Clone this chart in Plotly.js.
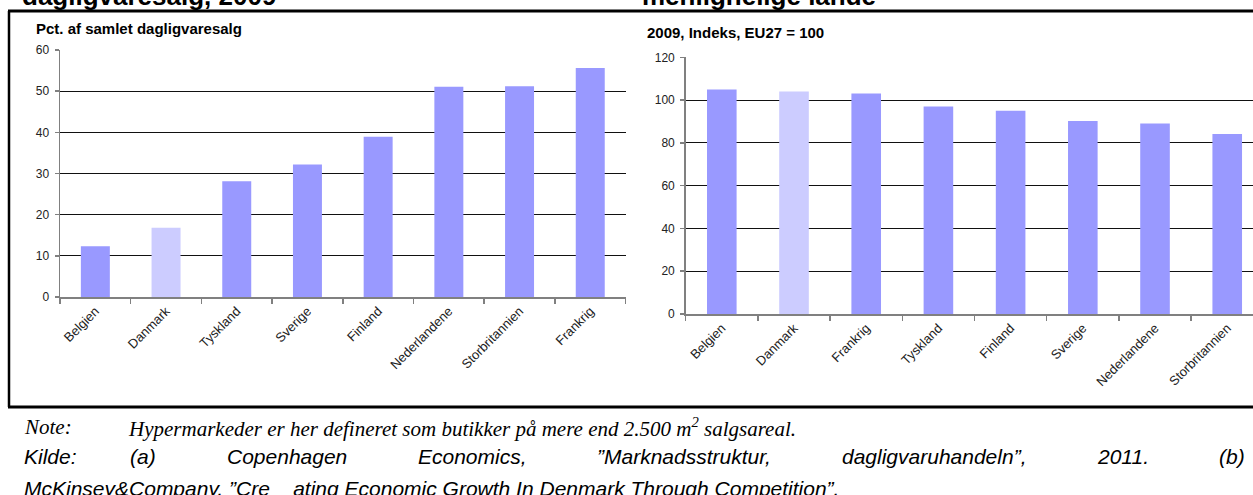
<!DOCTYPE html>
<html>
<head>
<meta charset="utf-8">
<script src="https://cdn.plot.ly/plotly-3.0.1.min.js"></script>
<style>
  html, body { margin: 0; padding: 0; background: #fff; }
  #chart { width: 1253px; height: 495px; }
</style>
</head>
<body>
<div id="chart"></div>
<script>
// Hypermarkeders andel af dagligvaresalget, 2009
const shareCountries = ['Belgien', 'Danmark', 'Tyskland', 'Sverige', 'Finland', 'Nederlandene', 'Storbritannien', 'Frankrig'];
const shareValues = [12.3, 16.8, 28.1, 32.2, 38.9, 51.1, 51.2, 55.6];

// Prisniveau, 2009, indeks EU27 = 100
const priceCountries = ['Belgien', 'Danmark', 'Frankrig', 'Tyskland', 'Finland', 'Sverige', 'Nederlandene', 'Storbritannien'];
const priceValues = [104.9, 104.0, 103.1, 97.0, 95.0, 90.2, 89.1, 84.1];

const leftSubtitle = 'Pct. af samlet dagligvaresalg';
const rightSubtitle = '2009, Indeks, EU27 = 100';
const leftHeading = 'dagligvaresalg, 2009';
const rightHeading = 'menlignelige lande';
const noteLabel = 'Note:';
const noteText = 'Hypermarkeder er her defineret som butikker på mere end 2.500 m<sup>2</sup> salgsareal.';
const sourceWords = ['Kilde:', '(a)', 'Copenhagen', 'Economics,', '\u201dMarknadsstruktur,', 'dagligvaruhandeln\u201d,', '2011.', '(b)'];
const sourceLine2 = 'McKinsey&Company, \u201dCre\u00a0\u00a0\u00a0\u00a0ating Economic Growth In Denmark Through Competition\u201d.';

const W = 1253, H = 495;
const px = x => x / W;          // pixel -> paper x
const py = y => 1 - y / H;      // pixel -> paper y

const BAR = '#9999FF', BAR_DK = '#CCCCFF';
const colorsFor = cats => cats.map(c => c === 'Danmark' ? BAR_DK : BAR);

const sans = 'Liberation Sans, Arial, sans-serif';
const serif = 'Liberation Serif, Times New Roman, serif';

const traces = [
  {
    type: 'bar', x: shareCountries, y: shareValues, xaxis: 'x', yaxis: 'y',
    width: 0.41,
    marker: { color: colorsFor(shareCountries), line: { width: 0 } },
    hoverinfo: 'x+y'
  },
  {
    type: 'bar', x: priceCountries, y: priceValues, xaxis: 'x2', yaxis: 'y2',
    width: 0.41,
    marker: { color: colorsFor(priceCountries), line: { width: 0 } },
    hoverinfo: 'x+y'
  }
];

const xCommon = {
  type: 'category',
  showline: true, linecolor: '#808080', linewidth: 1.5,
  ticks: 'outside', ticklen: 5, tickcolor: '#808080', tickwidth: 1.5,
  tickson: 'boundaries',
  tickangle: -45,
  tickfont: { family: sans, size: 13, color: '#222' },
  showgrid: false, zeroline: false, fixedrange: true
};
const yCommon = {
  showline: true, linecolor: '#808080', linewidth: 1.5,
  ticks: 'outside', ticklen: 4, tickcolor: '#808080', tickwidth: 1.5,
  ticklabelstandoff: 3,
  tickfont: { family: sans, size: 12, color: '#222' },
  showgrid: true, gridcolor: '#111', gridwidth: 1,
  zeroline: false, fixedrange: true
};

// Justified source line: measure word widths and spread them across the line
function measure(text, font) {
  const ctx = document.createElement('canvas').getContext('2d');
  ctx.font = font;
  return ctx.measureText(text).width;
}
const srcFontSize = 21;
const srcFont = 'italic ' + srcFontSize + 'px "Liberation Sans"';
const srcLeft = 128, srcRight = 1243;
const rest = sourceWords.slice(1);
const widths = rest.map(w => measure(w, srcFont));
const gap = (srcRight - srcLeft - widths.reduce((a, b) => a + b, 0)) / (rest.length - 1);

const annotations = [];
function addText(text, x, yMid, font, extra) {
  annotations.push(Object.assign({
    text: text, xref: 'paper', yref: 'paper', x: px(x), y: py(yMid),
    xanchor: 'left', yanchor: 'middle', showarrow: false, font: font
  }, extra || {}));
}

addText(leftHeading, 20, -4, { family: sans, size: 26, color: '#000', weight: 'bold' });
addText(rightHeading, 640, -4, { family: sans, size: 26, color: '#000', weight: 'bold' });
addText(leftSubtitle, 34, 28, { family: sans, size: 15, color: '#000', weight: 'bold' });
addText(rightSubtitle, 645, 32.5, { family: sans, size: 15, color: '#000', weight: 'bold' });

const noteFont = { family: serif, size: 21, color: '#000', style: 'italic' };
addText(noteLabel, 22, 427, noteFont);
addText(noteText, 126, 427, noteFont);

const srcStyle = { family: sans, size: srcFontSize, color: '#000', style: 'italic' };
addText(sourceWords[0], 22, 456, srcStyle);
let cx = srcLeft;
rest.forEach((w, i) => {
  addText(w, cx, 456, srcStyle);
  cx += widths[i] + gap;
});
addText(sourceLine2, 22, 488, srcStyle);

const frame = { color: '#000', width: 3 };
const shapes = [
  { type: 'line', xref: 'paper', yref: 'paper', x0: px(8), x1: px(W), y0: py(11), y1: py(11), line: frame },
  { type: 'line', xref: 'paper', yref: 'paper', x0: px(9), x1: px(9), y0: py(11), y1: py(407), line: { color: '#000', width: 2.5 } },
  { type: 'line', xref: 'paper', yref: 'paper', x0: px(8), x1: px(W), y0: py(407), y1: py(407), line: frame }
];

const layout = {
  width: W, height: H,
  margin: { l: 0, r: 0, t: 0, b: 0 },
  paper_bgcolor: '#fff', plot_bgcolor: '#fff',
  showlegend: false,
  bargap: 0.59,
  xaxis: Object.assign({}, xCommon, { domain: [px(60), px(625.6)], anchor: 'y', range: [-0.5, 7.5] }),
  yaxis: Object.assign({}, yCommon, { domain: [py(297), py(50)], anchor: 'x', range: [0, 60], dtick: 10 }),
  xaxis2: Object.assign({}, xCommon, { domain: [px(685.7), 1], anchor: 'y2', range: [-0.5, 7.357] }),
  yaxis2: Object.assign({}, yCommon, { domain: [py(314), py(57.3)], anchor: 'x2', range: [0, 120], dtick: 20 }),
  annotations: annotations,
  shapes: shapes
};

Plotly.newPlot('chart', traces, layout, { displayModeBar: false, staticPlot: true });
</script>
</body>
</html>
